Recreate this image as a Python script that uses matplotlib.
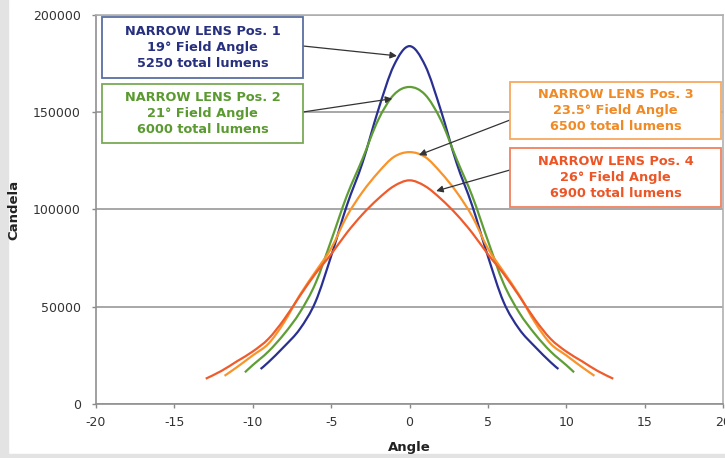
import numpy as np
import matplotlib
matplotlib.use("Agg")
import matplotlib.pyplot as plt
from matplotlib.path import Path
from matplotlib.patches import PathPatch, Rectangle

plt.rcParams['font.family'] = ['DejaVu Sans']
plt.rcParams['axes.unicode_minus'] = False

# 데이터
angle_1 = [-9.5, -9, -8, -7, -6, -5, -4, -3, -2, -1, 0, 1, 2, 3, 4, 5, 6, 7, 8, 9, 9.5]
cd_1 = [18000, 21500, 29500, 38500, 52500, 76000, 102000, 124000, 151000, 174000, 184000,
        174000, 151000, 124000, 102000, 76000, 52500, 38500, 29500, 21500, 18000]

angle_2 = [-10.5, -10, -9, -8, -7, -6, -5, -4, -3, -2, -1, 0, 1, 2, 3, 4, 5, 6, 7, 8, 9, 10, 10.5]
cd_2 = [16300, 20000, 27000, 36000, 47000, 62000, 84000, 107000, 126000, 146000, 159000, 163000,
        159000, 146000, 126000, 107000, 84000, 62000, 47000, 36000, 27000, 20000, 16300]

angle_3 = [-11.8, -11, -10, -9, -8, -7, -6, -5, -4, -3, -2, -1, 0, 1, 2, 3, 4, 5, 6, 7, 8, 9, 10, 11, 11.8]
cd_3 = [14500, 19000, 25000, 31000, 42000, 56000, 68000, 80000, 96500, 109000, 119000, 127000, 129500,
        127000, 119000, 109000, 96500, 80000, 68000, 56000, 42000, 31000, 25000, 19000, 14500]

angle_4 = [-13, -12, -11, -10, -9, -8, -7, -6, -5, -4, -3, -2, -1, 0,
           1, 2, 3, 4, 5, 6, 7, 8, 9, 10, 11, 12, 13]
cd_4 = [13000, 17000, 22000, 27000, 33500, 43500, 55500, 67000, 77000, 88000, 97500, 105500, 112000, 115000,
        112000, 105500, 97500, 88000, 77000, 67000, 55500, 43500, 33500, 27000, 22000, 17000, 13000]

labels = [
    "NARROW LENS Pos. 1\n19° Field Angle\n5250 total lumens",
    "NARROW LENS Pos. 2\n21° Field Angle\n6000 total lumens",
    "NARROW LENS Pos. 3\n23.5° Field Angle\n6500 total lumens",
    "NARROW LENS Pos. 4\n26° Field Angle\n6900 total lumens",
]
colors = ['#2a3090', '#5f9e35', '#f8942a', '#ef5b2b']
text_colors = ['#27307e', '#5a9a30', '#f08a25', '#ec5526']
box_colors = ['#5a6ea0', '#7aaa55', '#f8a860', '#f08060']


def smooth_path(x, y):
    # Excel 스타일 부드러운 선 (Catmull-Rom -> Bezier)
    p = np.column_stack([x, y]).astype(float)
    verts = [p[0]]
    codes = [Path.MOVETO]
    n = len(p)
    for i in range(n - 1):
        p0 = p[i - 1] if i > 0 else p[i]
        p3 = p[i + 2] if i + 2 < n else p[i + 1]
        c1 = p[i] + (p[i + 1] - p0) / 6
        c2 = p[i + 1] - (p3 - p[i]) / 6
        verts += [c1, c2, p[i + 1]]
        codes += [Path.CURVE4] * 3
    return Path(verts, codes)


fig = plt.figure(figsize=(7.25, 4.58), dpi=100)
fig.patch.set_facecolor('white')
fig.add_artist(Rectangle((0, 0), 8 / 725, 1, transform=fig.transFigure, color='#e3e3e3', zorder=0))
fig.add_artist(Rectangle((0, 0), 1, 4 / 458, transform=fig.transFigure, color='#e3e3e3', zorder=0))

ax = fig.add_axes([96 / 725, 54 / 458, 627 / 725, 389 / 458])

for xs, ys, c in zip([angle_1, angle_2, angle_3, angle_4], [cd_1, cd_2, cd_3, cd_4], colors):
    ax.add_patch(PathPatch(smooth_path(xs, ys), facecolor='none', edgecolor=c, lw=1.6, zorder=3))

ax.set_xlim(-20, 20)
ax.set_ylim(0, 200000)
ax.set_xticks(range(-20, 21, 5))
ax.set_yticks(range(0, 200001, 50000))
ax.tick_params(labelsize=9, colors='#888888', labelcolor='#333333', length=3, width=1)
ax.tick_params(axis='y', pad=8)
ax.tick_params(axis='x', pad=6)
ax.yaxis.grid(True, color='#a0a0a0', lw=1.3)
ax.set_axisbelow(True)
for s in ['left', 'bottom']:
    ax.spines[s].set_color('#909090')
    ax.spines[s].set_linewidth(1.2)
for s in ['top', 'right']:
    ax.spines[s].set_color('#b0b0b0')
    ax.spines[s].set_linewidth(1.2)

ax.set_xlabel("Angle", fontsize=9.5, fontweight='bold', color='#222222')
ax.set_ylabel("Candela", fontsize=9.5, fontweight='bold', color='#222222')
ax.xaxis.set_label_coords(0.5, -0.095)
ax.yaxis.set_label_coords(-0.12, 0.5)

# 라벨 상자 (픽셀 좌표: 왼쪽, 위, 오른쪽, 아래)
boxes = [(102, 17, 303, 78), (102, 84, 303, 143), (510, 82, 721, 139), (510, 148, 721, 207)]
arrow_from = [(303, 46), (303, 112), (510, 120), (510, 170)]
arrow_to = [(-0.8, 179000), (-1.1, 157000), (0.6, 128000), (1.7, 109500)]

for (l, t, r, b), lab, tc, bc in zip(boxes, labels, text_colors, box_colors):
    fig.add_artist(Rectangle((l / 725, 1 - b / 458), (r - l) / 725, (b - t) / 458,
                             transform=fig.transFigure, facecolor='white', edgecolor=bc,
                             lw=1.3, zorder=5))
    fig.text((l + r) / 2 / 725, 1 - (t + b) / 2 / 458, lab, ha='center', va='center',
             fontsize=9.3, fontweight='bold', color=tc, linespacing=1.3, zorder=6)

for (fx, fy), xy in zip(arrow_from, arrow_to):
    ax.annotate("", xy=xy, xycoords='data',
                xytext=(fx / 725, 1 - fy / 458), textcoords='figure fraction',
                arrowprops=dict(arrowstyle='-|>', color='#333333', lw=0.9,
                                mutation_scale=10, shrinkA=0, shrinkB=0),
                zorder=7, annotation_clip=False)

fig.savefig("out.png", dpi=100)
